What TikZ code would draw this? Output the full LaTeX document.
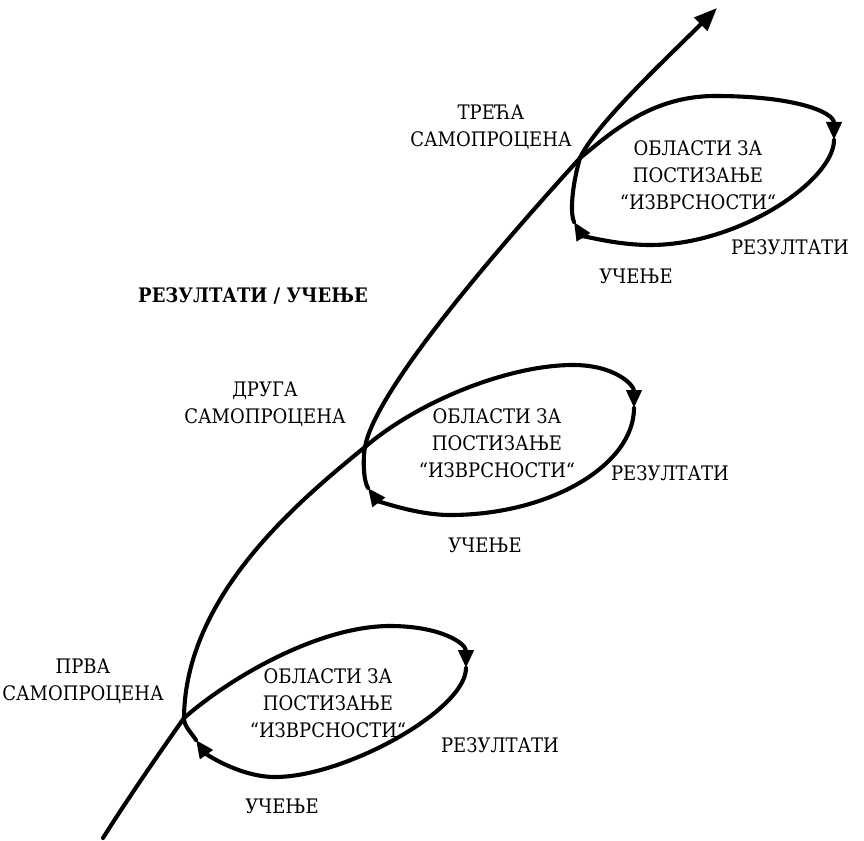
\documentclass[tikz,border=0pt]{standalone}
\usepackage{fontspec}
\setmainfont[FakeStretch=0.9]{DejaVu Serif}
\usetikzlibrary{arrows.meta}

\begin{document}
\begin{tikzpicture}[x=1pt,y=-1pt,
  spiral/.style={line width=4.1pt, line cap=round, line join=round},
  tipped/.style={spiral, -{Triangle[length=18pt,width=15pt]}},
  bigtip/.style={spiral, -{Triangle[length=23pt,width=18pt]}},
  lbl/.style={font=\fontsize{20}{27}\selectfont, align=center, inner sep=0pt},
]
\useasboundingbox (0,0) rectangle (864,840);

% points of the rising curve and its three loops
\coordinate (start) at (103,838);
\coordinate (A)  at (184,718);
\coordinate (T1) at (390,626);
\coordinate (R1) at (466,668);
\coordinate (B1) at (275,777);
\coordinate (L1) at (196,740);
\coordinate (B)  at (365,447);
\coordinate (T2) at (573,365);
\coordinate (R2) at (634,408);
\coordinate (B2) at (450,515);
\coordinate (L2) at (368,488);
\coordinate (C)  at (580,158);
\coordinate (T3) at (715,96);
\coordinate (R3) at (834,140);
\coordinate (B3) at (650,245);
\coordinate (L3) at (574,222);
\coordinate (top) at (717,8);

% first loop
\draw[tipped] (start) .. controls (130,795) and (165,745) .. (A)
  .. controls (232,676) and (320,626) .. (T1)
  .. controls (440,626) and (466,643) .. (R1);
\draw[tipped] (R1) .. controls (466,710) and (345,777) .. (B1)
  .. controls (240,777) and (206,754) .. (L1);
% rise to the second loop
\draw[tipped] (L1) .. controls (190,731) and (184,726) .. (A)
  .. controls (185,595) and (300,500) .. (B)
  .. controls (420,400) and (510,365) .. (T2)
  .. controls (615,365) and (634,385) .. (R2);
\draw[tipped] (R2) .. controls (634,465) and (550,515) .. (B2)
  .. controls (415,515) and (377,500) .. (L2);
% rise to the third loop
\draw[tipped] (L2) .. controls (363,480) and (363,457) .. (B)
  .. controls (375,390) and (500,246) .. (C)
  .. controls (610,134) and (650,96) .. (T3)
  .. controls (795,96) and (834,112) .. (R3);
\draw[tipped] (R3) .. controls (834,180) and (740,245) .. (B3)
  .. controls (615,245) and (582,235) .. (L3);
% final rise
\draw[bigtip] (L3) .. controls (569,210) and (574,178) .. (C)
  .. controls (595,125) and (665,60) .. (top);

% labels
\node[lbl] (self3) at (491,127) {ТРЕЋА\\САМОПРОЦЕНА};
\node[lbl] (area3) at (698,175) {ОБЛАСТИ ЗА\\ПОСТИЗАЊЕ\\“ИЗВРСНОСТИ“};
\node[lbl] (res3)  at (790,247) {РЕЗУЛТАТИ};
\node[lbl] (learn3) at (636,276) {УЧЕЊЕ};

\node[lbl, font=\fontsize{20}{27}\selectfont\bfseries] (title) at (253,296) {РЕЗУЛТАТИ / УЧЕЊЕ};

\node[lbl] (self2) at (265,404) {ДРУГА\\САМОПРОЦЕНА};
\node[lbl] (area2) at (497,443) {ОБЛАСТИ ЗА\\ПОСТИЗАЊЕ\\“ИЗВРСНОСТИ“};
\node[lbl] (res2)  at (670,473) {РЕЗУЛТАТИ};
\node[lbl] (learn2) at (485,545) {УЧЕЊЕ};

\node[lbl] (self1) at (83,681) {ПРВА\\САМОПРОЦЕНА};
\node[lbl] (area1) at (328,703) {ОБЛАСТИ ЗА\\ПОСТИЗАЊЕ\\“ИЗВРСНОСТИ“};
\node[lbl] (res1)  at (500,745) {РЕЗУЛТАТИ};
\node[lbl] (learn1) at (282,806) {УЧЕЊЕ};
\end{tikzpicture}
\end{document}
